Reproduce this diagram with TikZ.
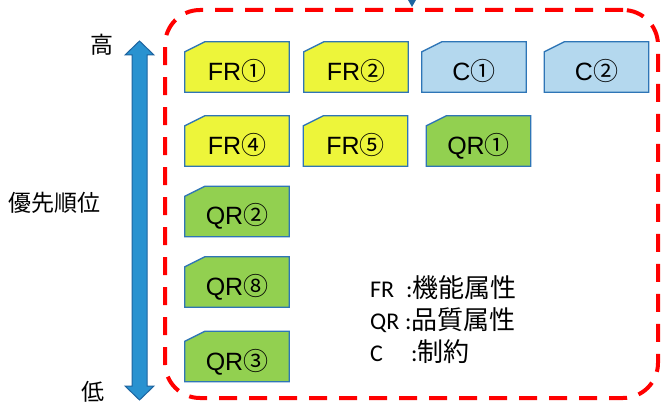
\documentclass[tikz,border=0pt]{standalone}
\usepackage{fontspec}
\setmainfont{Liberation Sans}
\newfontfamily\jpfont{Noto Sans CJK JP}
\newfontfamily\calfont{Carlito}
\usetikzlibrary{backgrounds,arrows.meta}
\definecolor{boxyellow}{RGB}{237,245,58}
\definecolor{boxblue}{RGB}{180,216,238}
\definecolor{boxgreen}{RGB}{146,208,80}
\definecolor{boxedge}{RGB}{46,117,182}
\definecolor{arrowfill}{RGB}{41,146,208}
\definecolor{arrowedge}{RGB}{30,100,160}
\definecolor{framered}{RGB}{255,0,0}
\newcommand\tagnode[5]{%
  \node[tagbox] (#1) at (#2,#3) {#5};
  \begin{scope}[on background layer]
    \draw[tagedge, fill=#4] (#1.south west) -- ([yshift=-10pt]#1.north west) -- ([xshift=20pt]#1.north west) -- (#1.north east) -- (#1.south east) -- cycle;
  \end{scope}}
\begin{document}
\begin{tikzpicture}[x=1pt,y=-1pt,
  tagbox/.style={minimum width=104pt, minimum height=50pt, inner sep=0pt, text height=27pt, text depth=0pt, font=\fontsize{25}{25}\selectfont},
  tagedge/.style={draw=boxedge, line width=1.3pt},
  frame/.style={draw=framered, line width=4pt, dash pattern=on 18pt off 12pt, rounded corners=35pt, minimum width=493pt, minimum height=388pt, inner sep=0pt},
  axislabel/.style={font=\jpfont\fontsize{23}{23}\selectfont, inner sep=0pt},
  legend/.style={font=\calfont\fontsize{24}{24}\selectfont, inner sep=0pt, anchor=base west},
  prioarrow/.style={fill=arrowfill, draw=arrowedge, line width=1pt},
  feedline/.style={draw=arrowedge, fill=arrowfill, line width=1.5pt, -{Triangle[width=11pt,length=10pt]}, shorten >=1pt},
]
\useasboundingbox (0,0) rectangle (661,403);

\node[frame] (frame) at (411.5,204) {};
\coordinate (feed) at (412,-30);
\draw[feedline] (feed) -- (feed |- frame.north);

\tagnode{fr1}{237}{67}{boxyellow}{FR{\jpfont ①}}
\tagnode{fr2}{356}{67}{boxyellow}{FR{\jpfont ②}}
\tagnode{c1}{474}{67}{boxblue}{C{\jpfont ①}}
\tagnode{c2}{596.5}{67}{boxblue}{C{\jpfont ②}}
\tagnode{fr4}{237}{141}{boxyellow}{FR{\jpfont ④}}
\tagnode{fr5}{355.5}{141}{boxyellow}{FR{\jpfont ⑤}}
\tagnode{qr1}{478.5}{141}{boxgreen}{QR{\jpfont ①}}
\tagnode{qr2}{237}{211.5}{boxgreen}{QR{\jpfont ②}}
\tagnode{qr8}{237}{282}{boxgreen}{QR{\jpfont ⑧}}
\tagnode{qr3}{237}{356.5}{boxgreen}{QR{\jpfont ③}}

\draw[prioarrow] (139.5,41) -- (154,55) -- (147,55) -- (147,386) -- (154,386) -- (139.5,400) -- (125,386) -- (132,386) -- (132,55) -- (125,55) -- cycle;

\node[axislabel] (high) at (102,45) {高};
\node[axislabel] (prio) at (55,203) {優先順位};
\node[axislabel] (low) at (92.5,392) {低};

\node[legend] (lfr) at (370,298) {\makebox[36pt][l]{FR}:\fontsize{26}{26}\jpfont 機能属性};
\node[legend] (lqr) at (370,329.5) {\makebox[35pt][l]{QR}:\fontsize{26}{26}\jpfont 品質属性};
\node[legend] (lc) at (370,361) {\makebox[41pt][l]{C}:\fontsize{26}{26}\jpfont 制約};
\end{tikzpicture}
\end{document}
